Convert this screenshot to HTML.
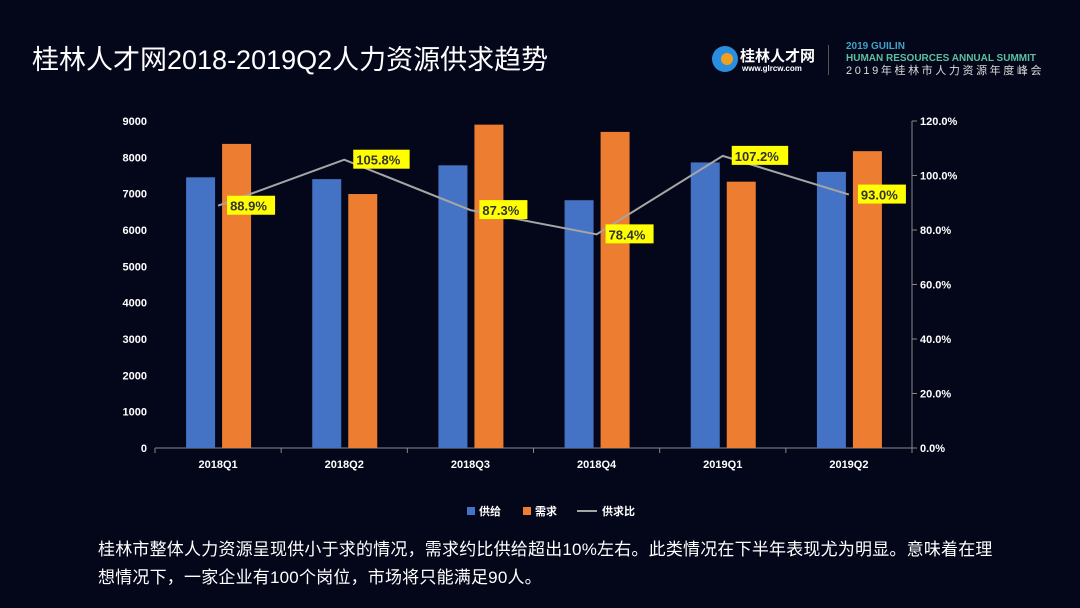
<!DOCTYPE html>
<html><head><meta charset="utf-8"><style>
body{margin:0;width:1080px;height:608px;background:#04061a;overflow:hidden;font-family:"Liberation Sans","Noto Sans CJK SC",sans-serif;color:#fff}
#title{position:absolute;left:32px;top:38px;font-size:27px;font-weight:normal}
#desc{position:absolute;left:98px;top:536px;font-size:17px;line-height:28px;width:905px;letter-spacing:0.2px}
</style></head><body>
<div id="title">桂林人才网2018-2019Q2人力资源供求趋势</div>
<div style="position:absolute;left:712px;top:44px;width:105px;height:32px">
 <div style="position:absolute;left:0;top:2px;width:26px;height:26px;border-radius:50%;background:#2a8ee0"></div>
 <div style="position:absolute;left:9px;top:9px;width:12px;height:12px;border-radius:50%;background:#f0a020"></div>
 <div style="position:absolute;left:28px;top:1px;font-size:15px;font-weight:bold">桂林人才网</div>
 <div style="position:absolute;left:30px;top:20px;font-size:8px;font-weight:bold">www.glrcw.com</div>
</div>
<div style="position:absolute;left:828px;top:45px;width:1px;height:30px;background:#555"></div>
<div style="position:absolute;left:846px;top:41px;font-size:10px;line-height:12px">
 <div style="color:#3fa3c8;font-weight:bold">2019 GUILIN</div>
 <div style="color:#5cc0a0;font-weight:bold">HUMAN RESOURCES ANNUAL SUMMIT</div>
 <div style="color:#ddd;letter-spacing:2.6px;font-size:11px">2019年桂林市人力资源年度峰会</div>
</div>
<svg id="chart" width="1080" height="608" style="position:absolute;left:0;top:0"></svg>
<div id="desc">桂林市整体人力资源呈现供小于求的情况，需求约比供给超出10%左右。此类情况在下半年表现尤为明显。意味着在理想情况下，一家企业有100个岗位，市场将只能满足90人。</div>
<script>
const categories=["2018Q1","2018Q2","2018Q3","2018Q4","2019Q1","2019Q2"];
const supply=[7450,7400,7780,6820,7860,7600];
const demand=[8370,6990,8900,8700,7330,8170];
const ratio=[88.9,105.8,87.3,78.4,107.2,93.0];
const leftTicks=[0,1000,2000,3000,4000,5000,6000,7000,8000,9000];
const rightTicks=[0,20,40,60,80,100,120];
const NS="http://www.w3.org/2000/svg";
const svg=document.getElementById('chart');
const L=155,R=912,T=121,B=448,bw=(R-L)/categories.length;
const y=v=>B-(v/9000)*(B-T);
const yr=v=>B-(v/120)*(B-T);
const xc=i=>L+bw*(i+0.5);
function mk(tag,a,p){const e=document.createElementNS(NS,tag);for(const k in a)e.setAttribute(k,a[k]);(p||svg).appendChild(e);return e;}
function txt(s,a){const t=mk('text',Object.assign({fill:'#fff','font-size':'11','font-weight':'bold','font-family':'Liberation Sans, sans-serif'},a));t.textContent=s;return t;}
let ax=mk('line',{x1:L,x2:R,y1:B,y2:B,stroke:'#888'});


let rax=mk('line',{x1:R,x2:R,y1:T,y2:B,stroke:'#888'});


for(let i=0;i<=categories.length;i++)mk('line',{x1:L+bw*i,x2:L+bw*i,y1:B,y2:B+5,stroke:'#888'});
leftTicks.forEach(v=>{const t=txt(v,{x:147,y:y(v)+4,'text-anchor':'end'});

});
rightTicks.forEach(v=>{mk('line',{x1:R,x2:R+5,y1:yr(v),y2:yr(v),stroke:'#888'});const t=txt(v.toFixed(1)+'%',{x:920,y:yr(v)+4});

});
categories.forEach((c,i)=>{
 const b1=mk('rect',{x:xc(i)-32,y:y(supply[i]),width:29,height:B-y(supply[i]),fill:'#4472c4'});
 
 
 const b2=mk('rect',{x:xc(i)+4,y:y(demand[i]),width:29,height:B-y(demand[i]),fill:'#ed7d31'});
 
 
 const t=txt(c,{x:xc(i),y:468,'text-anchor':'middle'});
 
 
});
const line=mk('polyline',{points:ratio.map((v,i)=>xc(i)+','+yr(v)).join(' '),fill:'none',stroke:'#a5a5a5','stroke-width':2});


ratio.forEach((v,i)=>{
 const s=v.toFixed(1)+'%',w=s.length*8.4+6;
 const g=mk('g',{});
 
 
 mk('rect',{x:xc(i)+9,y:yr(v)-10,width:w,height:19,fill:'#ffff00'},g);
 const t=txt(s,{x:xc(i)+12,y:yr(v)+5,fill:'#333','font-size':'13'});g.appendChild(t);
});
const lg=[["供给",'#4472c4',467],["需求",'#ed7d31',523]];
lg.forEach(([n,c,x])=>{const g=mk('g',{});
 
 
 mk('rect',{x:x,y:507,width:8,height:8,fill:c},g);
 const t=txt(n,{x:x+12,y:515,'font-family':'Liberation Sans, Noto Sans CJK SC, sans-serif'});g.appendChild(t);});
const g3=mk('g',{});


mk('line',{x1:577,x2:597,y1:511,y2:511,stroke:'#a5a5a5','stroke-width':2},g3);
g3.appendChild(txt("供求比",{x:602,y:515,'font-family':'Liberation Sans, Noto Sans CJK SC, sans-serif'}));
</script>
</body></html>
